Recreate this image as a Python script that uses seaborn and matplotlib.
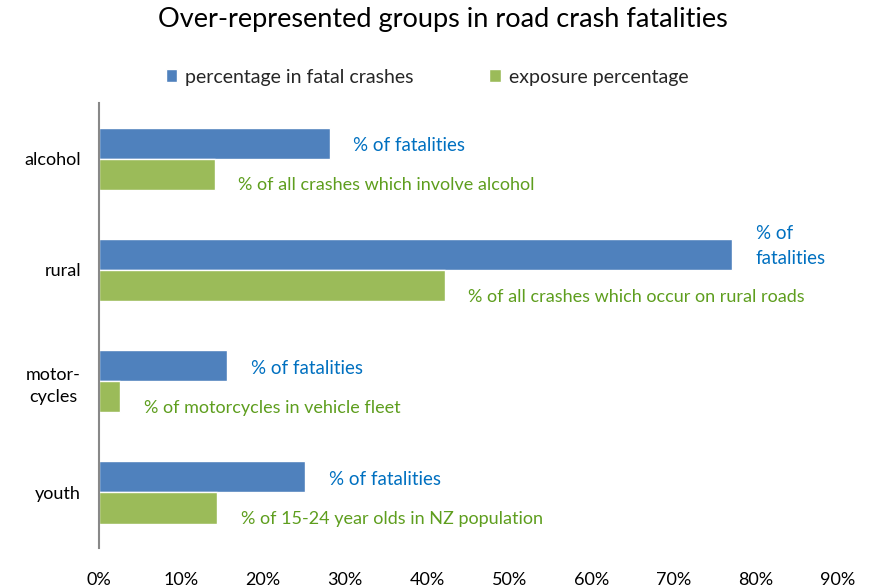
import pandas as pd
import seaborn as sns
import matplotlib.pyplot as plt
from matplotlib.ticker import FuncFormatter

# values (percent)
groups = ["alcohol", "rural", "motor-\ncycles", "youth"]
fatal_pct = [28.1, 77.1, 15.6, 25.1]
exposure_pct = [14.1, 42.1, 2.6, 14.4]
series = ["percentage in fatal crashes", "exposure percentage"]
fatal_notes = ["% of fatalities", "% of\nfatalities", "% of fatalities", "% of fatalities"]
exposure_notes = [
    "% of all crashes which involve alcohol",
    "% of all crashes which occur on rural roads",
    "% of motorcycles in vehicle fleet",
    "% of 15-24 year olds in NZ population",
]

df = pd.DataFrame({
    "group": groups * 2,
    "value": fatal_pct + exposure_pct,
    "series": [series[0]] * 4 + [series[1]] * 4,
})

sns.set_style("white")
plt.rcParams["font.family"] = ["Lato", "DejaVu Sans"]

fig = plt.figure(figsize=(8.72, 5.86), dpi=100)
ax = fig.add_axes([0.1135, 0.0648, 0.8475, 0.7592])

palette = {series[0]: "#4F81BD", series[1]: "#9BBB59"}
sns.barplot(data=df, y="group", x="value", hue="series", orient="h",
            palette=palette, width=0.56, saturation=1, ax=ax)

ax.set_xlim(0, 90)
ax.set_ylim(3.5, -0.5)
ax.set_xticks(range(0, 91, 10))
ax.xaxis.set_major_formatter(FuncFormatter(lambda v, p: f"{v:.0f}%"))
ax.set_xlabel("")
ax.set_ylabel("")
ax.tick_params(axis="x", length=0, pad=17, labelsize=13, colors="#000000")
ax.tick_params(axis="y", length=0, pad=13, labelsize=13, colors="#000000")
for lab in ax.get_yticklabels():
    lab.set_multialignment("center")
    lab.set_linespacing(1.45)

for s in ["top", "right", "bottom"]:
    ax.spines[s].set_visible(False)
ax.spines["left"].set_color("#888888")
ax.spines["left"].set_linewidth(1.5)

blue_txt = "#0070C0"
green_txt = "#5E9E1E"
for i in range(len(groups)):
    ax.annotate(fatal_notes[i], xy=(fatal_pct[i], i - 0.14), xytext=(17, -2 if i != 1 else 6),
                textcoords="offset points", va="center", ha="left",
                fontsize=13.5, color=blue_txt, linespacing=1.6)
    ax.annotate(exposure_notes[i], xy=(exposure_pct[i], i + 0.14), xytext=(17, -8),
                textcoords="offset points", va="center", ha="left",
                fontsize=13, color=green_txt)

leg = ax.legend(loc="center", bbox_to_anchor=(427 / 872, 1 - 77 / 586),
                bbox_transform=fig.transFigure, ncol=2, frameon=False,
                fontsize=14, handlelength=0.6, handleheight=0.6,
                handletextpad=0.4, columnspacing=3.9)

fig.text(443 / 872, 1 - 20 / 586, "Over-represented groups in road crash fatalities",
         ha="center", va="center", fontsize=19.5, color="#000000")

fig.savefig("out.png", dpi=100)
